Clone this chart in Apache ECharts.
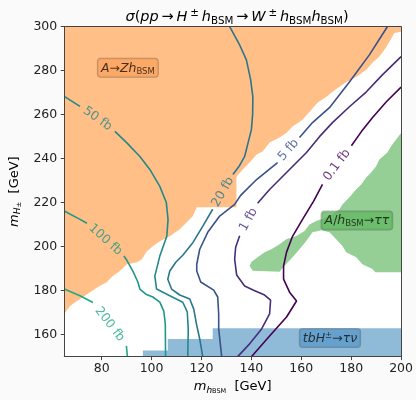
<!DOCTYPE html>
<html><head><meta charset="utf-8">
<script src="https://cdn.jsdelivr.net/npm/echarts@6/dist/echarts.min.js"></script>
<style>html,body{margin:0;padding:0;background:#fafafa}#c{width:416px;height:400px}</style>
</head><body><div id="c"></div>
<script>
// ---- tick labels ----
const xTicks = [80, 100, 120, 140, 160, 180, 200];
const yTicks = [160, 180, 200, 220, 240, 260, 280, 300];

// ---- contour levels (label text) ----
const levels = ['200 fb', '100 fb', '50 fb', '20 fb', '5 fb', '1 fb', '0.1 fb'];

// ---- contour lines [m_hBSM, m_H±], segments split where the inline label sits ----
const contour200 = [
  [[65, 180.7], [71.3, 177.7], [76.5, 174.6]],
  [[89.9, 154.9], [90.3, 150]]
];
const contour100 = [
  [[65, 216.2], [71.3, 212.4], [74.1, 210.6]],
  [[88.9, 195.7], [90.1, 193.8], [92.5, 188.9], [94.5, 183.9], [95.3, 180.7], [97.7, 178.4], [100.5, 177.1], [103.3, 174.8], [104.9, 170.7], [105.5, 164.8], [105.6, 150]]
];
const contour50 = [
  [[65, 268.3], [71.3, 263.8]],
  [[85.3, 252.4], [90.1, 247.2], [95.3, 241], [99.3, 235.1], [103.3, 227.4], [105.9, 220.1], [106.6, 212.4], [106.1, 204.7], [103.3, 195.7], [101.3, 186.6], [102, 180.7], [107.3, 177.7], [112.5, 174.7], [114.3, 170.3], [114.7, 162.6], [114.5, 150]]
];
const contour20 = [
  [[131.3, 300], [135.3, 291.7], [138, 284.9], [139.7, 275.9], [140.6, 268.1], [140.5, 260], [140, 253.2], [138.5, 246.4], [137.3, 241], [135.3, 236.9], [132.6, 232.8]],
  [[124.5, 217], [120.6, 209.4], [116.6, 201.9], [112.5, 196.1], [109.7, 192.9], [107.3, 188.9], [106.5, 185.2], [108, 180.7], [111.3, 178], [115.3, 176.2], [116.9, 171.6], [118, 164.8], [119.3, 158], [120.5, 150]]
];
const contour5 = [
  [[194.5, 300], [187.3, 287.2], [179.3, 274.9], [171.3, 263.2], [164.5, 256.4], [159.3, 249.6]],
  [[150.5, 238.2], [142.1, 230.5], [135.7, 223.3], [133.3, 219.2], [127.3, 213.9], [122.5, 206.5], [119.3, 198.8], [118.1, 192], [118.1, 188.9], [119.7, 183.9], [124.9, 180.2], [126.5, 177.1], [126.9, 169.4], [126.9, 162.6], [128.1, 150]]
];
const contour1 = [
  [[200, 286.4], [192.5, 278.1], [186.1, 270.4], [179.3, 263.6], [172.5, 256.4], [167.3, 250], [162.1, 242.8], [154.1, 233.7], [147.3, 226], [142.5, 219.7]],
  [[135.3, 204.9], [133.7, 199.7], [133.3, 194.3], [134.1, 187.1], [137.3, 182.1], [140.9, 180.2], [145.3, 178], [147.7, 175.7], [147.3, 169.4], [144.1, 162.6], [139.3, 155.8], [134.5, 150]]
];
const contour01 = [
  [[200, 272.5], [194.1, 265.9], [188.5, 258.6], [184.1, 252.3], [180.1, 245.9]],
  [[168.5, 228.3], [164.9, 220.6], [160.5, 212.4], [156.5, 204.7], [154.1, 197.5], [152.9, 191.1], [152.9, 185.2], [155.3, 179.3], [158.1, 175.3], [154.1, 168], [147.3, 159.4], [140.1, 150]]
];
const contours = [contour200, contour100, contour50, contour20, contour5, contour1, contour01];

// inline label anchors (value coords) and angles
const labelAnchors = [[83.2, 164.7], [81.5, 203.1], [78.3, 258.1], [128.6, 224.9], [154.9, 243.9], [138.9, 212.3], [174.3, 237.1]];
const labelAngles = [-52, -42, -35, 60, 49, 61, 53];

// ---- excluded regions (polygon vertices) ----
const regionAZh = [[65, 300], [200, 300], [200, 297.7], [197.3, 297.1], [195.3, 293.2], [193.3, 289.4], [191.3, 286.4], [188.5, 283.6], [186.1, 280.4], [182.1, 277.2], [178.1, 274.9], [175.3, 272.7], [172.5, 270.4], [170.1, 268.1], [166.5, 265.4], [164.1, 262.3], [160.5, 257.7], [156.5, 254.6], [154.1, 251.8], [151.3, 249.6], [147.3, 247.3], [144.5, 243.2], [142.1, 241.9], [139.3, 238.2], [136.5, 235.1], [134.1, 231.9], [134, 230.5], [134, 217.9], [118.1, 217.9], [116.5, 213.8], [114.1, 211.1], [111.3, 207.9], [107.3, 204.7], [103.3, 202.4], [100.5, 200.2], [98.1, 197.9], [96.1, 194.3], [94.1, 192.9], [90.1, 192], [87.3, 188.9], [84.5, 186.6], [82.1, 183.9], [78.5, 181.6], [75.3, 179.3], [72.5, 177.1], [70.1, 175.3], [67.3, 173], [65, 169.4]];
const regionTauTau = [[200, 251.7], [198, 248.7], [196, 245.6], [194.5, 242.8], [191.3, 239.6], [190, 236.6], [188, 233.7], [186, 231.4], [184, 228.3], [181.3, 225.2], [179.3, 222.4], [176.5, 219.2], [175.3, 217], [172.5, 214.7], [170, 213.3], [166, 211.6], [163.3, 210.1], [161.3, 207.1], [158, 204.8], [154, 203.4], [151.3, 201.1], [148, 198.8], [145.3, 197.5], [142.5, 195.2], [140, 193], [139.3, 191.3], [140.5, 189], [151.3, 188.6], [153.3, 191.3], [156.5, 195.2], [159.3, 198.8], [162, 202.6], [164.5, 206.5], [168.1, 207.4], [171.3, 206.5], [174, 203.4], [176.5, 200.3], [178, 197.5], [182, 195.2], [184.5, 192], [188.5, 189.8], [189.7, 188.3], [200, 188.3]];
const regionTauNu = [[96.5, 150], [96.5, 152.8], [106.5, 152.8], [106.5, 158], [124.5, 158], [124.5, 162.9], [200, 162.9], [200, 150]];

// region label anchors
const boxAnchors = [[90.5, 281.3], [182.3, 211.9], [171.5, 158.5]];
</script>
<script>
const FONT = 'DejaVu Sans';
const lineColors = ['#22a884', '#1f988b', '#23888e', '#2a768e', '#3b518b', '#472d7b', '#440154'];
const labelColors = lineColors;

function polySeries(pts, color) {
  return {
    type: 'custom', coordinateSystem: 'cartesian2d', clip: true, silent: true, z: 1,
    data: [pts[0]],
    renderItem: (params, api) => ({
      type: 'polygon',
      shape: { points: pts.map(p => api.coord(p)) },
      style: { fill: color }
    })
  };
}

const series = [
  polySeries(regionAZh, '#ffbf86'),
  polySeries(regionTauTau, '#96cf96'),
  polySeries(regionTauNu, '#8fbbd9')
];

contours.forEach((segs, k) => {
  segs.forEach(seg => {
    series.push({
      type: 'line', data: seg, showSymbol: false, silent: true, z: 3,
      lineStyle: { color: lineColors[k], width: 1.6 }
    });
  });
  series.push({
    type: 'scatter', data: [labelAnchors[k]], symbolSize: 0, silent: true, z: 4,
    label: {
      show: true, position: 'inside', formatter: levels[k], rotate: labelAngles[k],
      color: labelColors[k], fontSize: 12.5, fontFamily: FONT
    }
  });
});

function R(extra) {
  return Object.assign({ fontFamily: FONT, fontWeight: 'normal', color: '#000' }, extra);
}
const boxRich = {
  i: R({ fontStyle: 'italic', fontSize: 12.5, lineHeight: 15, verticalAlign: 'middle', color: '#111' }),
  n: R({ fontSize: 12.5, lineHeight: 15, verticalAlign: 'middle', color: '#111' }),
  s: R({ fontSize: 8.5, lineHeight: 8, verticalAlign: 'bottom', color: '#111' }),
  p: R({ fontSize: 8.5, lineHeight: 8, verticalAlign: 'top', color: '#111' })
};
const boxTexts = ['{i|A}{n|→}{i|Zh}{s|BSM}', '{i|A}{n|/}{i|h}{s|BSM}{n|→}{i|ττ}', '{i|tbH}{p|±}{n|→}{i|τν}'];
const boxFills = ['#fda35c', '#62b862', '#5a9bc8'];
boxTexts.forEach((t, k) => {
  series.push({
    type: 'scatter', data: [boxAnchors[k]], symbolSize: 0, silent: true, z: 6,
    label: {
      show: true, position: 'inside', formatter: t, rich: boxRich,
      backgroundColor: boxFills[k], borderColor: 'rgba(60,60,60,0.45)', borderWidth: 1, borderRadius: 3,
      padding: [2, 3, 1, 3]
    }
  });
});

const titleRich = {
  i: R({ fontStyle: 'italic', fontSize: 14.5, lineHeight: 18, verticalAlign: 'middle' }),
  n: R({ fontSize: 14.5, lineHeight: 18, verticalAlign: 'middle' }),
  t: R({ fontSize: 9, lineHeight: 18, verticalAlign: 'middle' }),
  s: R({ fontSize: 10.3, lineHeight: 10, verticalAlign: 'bottom' }),
  p: R({ fontSize: 10.3, lineHeight: 10, verticalAlign: 'top' })
};

const nameRich = {
  m: R({ fontStyle: 'italic', fontSize: 13, lineHeight: 16, verticalAlign: 'middle' }),
  n: R({ fontSize: 13, lineHeight: 16, verticalAlign: 'middle' }),
  s: R({ fontStyle: 'italic', fontSize: 9, lineHeight: 9, verticalAlign: 'bottom' }),
  ss: R({ fontSize: 6.5, lineHeight: 3, verticalAlign: 'bottom' }),
  pm: R({ fontSize: 7, lineHeight: 15, verticalAlign: 'bottom' })
};

const axisCommon = {
  axisLine: { show: true, lineStyle: { color: '#444', width: 1 } },
  splitLine: { show: false },
  z: 10
};

const option = {
  backgroundColor: '#fafafa',
  animation: false,
  title: {
    text: '{i|σ}{n|(}{i|pp}{t| }{n|→}{t| }{i|H}{t| }{p|±}{t| }{i|h}{s|BSM}{t| }{n|→}{t| }{i|W}{t| }{p|±}{t| }{i|h}{s|BSM}{i|h}{s|BSM}{n|)}',
    left: 232, top: 3, textAlign: 'center',
    textStyle: { fontWeight: 'normal', rich: titleRich }
  },
  grid: { left: 64, right: 14.3, top: 26.7, bottom: 43.1, show: true, backgroundColor: '#ffffff', borderWidth: 0 },
  xAxis: [
    Object.assign({}, axisCommon, {
      type: 'value', min: 65, max: 200,
      axisTick: { show: true, length: 3.5, customValues: xTicks, lineStyle: { color: '#444' } },
      axisLabel: { customValues: xTicks, color: '#222', fontSize: 12.5, fontFamily: FONT, margin: 6 },
      name: '{m|m}{s|h}{ss|BSM}{n|  [GeV]}', nameLocation: 'middle', nameGap: 21,
      nameTextStyle: { fontWeight: 'normal', rich: nameRich }
    }),
    Object.assign({}, axisCommon, {
      type: 'value', min: 65, max: 200, position: 'top',
      axisTick: { show: false }, axisLabel: { show: false }
    })
  ],
  yAxis: [
    Object.assign({}, axisCommon, {
      type: 'value', min: 150, max: 300,
      axisTick: { show: true, length: 3.5, customValues: yTicks, lineStyle: { color: '#444' } },
      axisLabel: { customValues: yTicks, color: '#222', fontSize: 12.5, fontFamily: FONT, margin: 7 },
      name: '{m|m}{s|H}{pm|±}{n|  [GeV]}', nameLocation: 'middle', nameGap: 38, nameRotate: 90,
      nameTextStyle: { fontWeight: 'normal', rich: nameRich }
    }),
    Object.assign({}, axisCommon, {
      type: 'value', min: 150, max: 300, position: 'right',
      axisTick: { show: false }, axisLabel: { show: false }
    })
  ],
  series: series
};

const chart = echarts.init(document.getElementById('c'), null, { renderer: 'canvas' });
chart.setOption(option);
</script>
</body></html>
